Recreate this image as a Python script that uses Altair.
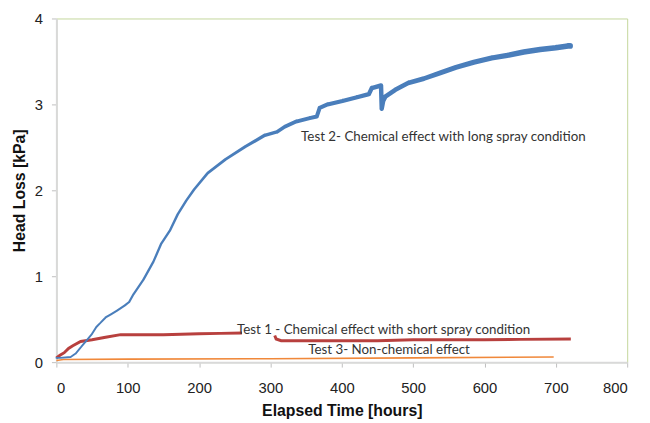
import altair as alt
import pandas as pd

# Test 2 - chemical effect with long spray condition
t2_hours = [0, 5, 20, 27, 35, 43, 50, 56, 62, 69, 77, 85, 96, 102, 108, 122, 136, 147, 159, 170,
            182, 193, 212, 237, 265, 292, 309, 320, 336, 355, 365, 369, 380, 401, 420, 438, 442,
            455, 456, 458, 461, 475, 493, 515, 539, 560, 585, 610, 632, 655, 678, 700, 717, 720]
t2_kpa = [0.05, 0.05, 0.06, 0.10, 0.18, 0.26, 0.33, 0.41, 0.46, 0.52, 0.56, 0.60, 0.66, 0.70, 0.79,
          0.96, 1.17, 1.38, 1.53, 1.72, 1.88, 2.01, 2.20, 2.36, 2.51, 2.64, 2.68, 2.74, 2.80, 2.84,
          2.86, 2.96, 3.00, 3.04, 3.08, 3.12, 3.19, 3.22, 2.95, 3.04, 3.09, 3.17, 3.25, 3.30, 3.37,
          3.43, 3.49, 3.54, 3.57, 3.61, 3.64, 3.66, 3.68, 3.68]

# Test 1 - chemical effect with short spray condition (two segments)
t1a_hours = [0, 5, 11, 17, 23, 34, 50, 69, 90, 115, 150, 200, 230, 260]
t1a_kpa = [0.05, 0.08, 0.11, 0.16, 0.19, 0.24, 0.26, 0.29, 0.32, 0.32, 0.32, 0.33, 0.335, 0.34]
t1b_hours = [306, 308, 315, 350, 400, 450, 500, 600, 650, 721]
t1b_kpa = [0.31, 0.27, 0.25, 0.25, 0.25, 0.25, 0.26, 0.26, 0.265, 0.27]

# Test 3 - non-chemical effect
t3_hours = [0, 10, 100, 300, 500, 697]
t3_kpa = [0.02, 0.03, 0.035, 0.04, 0.05, 0.06]

# Annotations
label_text = ["Test 2- Chemical effect with long spray condition",
              "Test 1 - Chemical effect with short spray condition",
              "Test 3- Non-chemical effect"]
label_x = [343, 253, 353]
label_y = [2.62, 0.375, 0.145]

df2 = pd.DataFrame({"x": t2_hours, "y": t2_kpa, "o": range(len(t2_hours))})
df1 = pd.DataFrame({
    "x": t1a_hours + t1b_hours,
    "y": t1a_kpa + t1b_kpa,
    "seg": ["a"] * len(t1a_hours) + ["b"] * len(t1b_hours),
})
df3 = pd.DataFrame({"x": t3_hours, "y": t3_kpa})
dfl = pd.DataFrame({"x": label_x, "y": label_y, "t": label_text})

xs = alt.Scale(domain=[0, 800], nice=False)
ys = alt.Scale(domain=[0, 4], nice=False)

xax = alt.Axis(title="Elapsed Time [hours]", values=[0, 100, 200, 300, 400, 500, 600, 700, 800],
               format="d", grid=False, tickSize=5, labelPadding=14, titleY=54,
               titleBaseline="alphabetic")
yax = alt.Axis(title="Head Loss [kPa]", values=[0, 1, 2, 3, 4], format="d", grid=False,
               tickSize=5, labelPadding=9, titleX=-32, titleBaseline="alphabetic")

orange = alt.Chart(df3).mark_line(color="#f0883a", strokeWidth=1.6).encode(
    x=alt.X("x:Q", scale=xs, axis=xax),
    y=alt.Y("y:Q", scale=ys, axis=yax),
)

red = alt.Chart(df1).mark_line(color="#b8403e", strokeWidth=3).encode(
    x=alt.X("x:Q", scale=xs),
    y=alt.Y("y:Q", scale=ys),
    detail="seg:N",
)

blue = alt.Chart(df2).mark_trail(color="#4a7ebb").encode(
    x=alt.X("x:Q", scale=xs),
    y=alt.Y("y:Q", scale=ys),
    order="o:Q",
    size=alt.Size("x:Q", scale=alt.Scale(domain=[0, 200, 350, 720], range=[1.8, 2.6, 4, 5.8]),
                  legend=None),
)

labels = alt.Chart(dfl).mark_text(align="left", baseline="middle", font="Lato", fontSize=13.5,
                                  color="#333333").encode(
    x=alt.X("x:Q", scale=xs),
    y=alt.Y("y:Q", scale=ys),
    text="t:N",
)

chart = alt.layer(orange, red, blue, labels).properties(
    width=578, height=348,
    autosize=alt.AutoSizeParams(type="none"),
    padding={"left": 49, "top": 8, "right": 15, "bottom": 59},
    background="white",
).configure_view(
    stroke="#c3d69b", strokeWidth=1
).configure_axis(
    domainColor="#d9d9d9", domainWidth=2, tickColor="#bfbfbf", tickWidth=1,
    labelFont="Liberation Sans", labelFontSize=15, labelColor="#222222",
    titleFont="Liberation Sans", titleFontSize=16, titleFontWeight="bold", titleColor="#111111",
)

chart.save("out.html", embed_options={"renderer": "svg", "actions": False})
